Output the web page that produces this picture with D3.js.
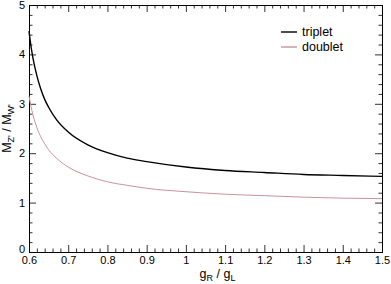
<!DOCTYPE html>
<html>
<head>
<meta charset="utf-8">
<script src="https://cdn.jsdelivr.net/npm/d3@7"></script>
<style>
  body { margin: 0; background: #fff; }
  svg text { font-family: "Liberation Sans", Arial, sans-serif; fill: #000; }
</style>
</head>
<body>
<svg width="391" height="284"></svg>
<script>
// g_R / g_L sample points
const ratio = [0.6, 0.605, 0.61, 0.62, 0.63, 0.64, 0.65, 0.67, 0.7, 0.75, 0.8, 0.85, 0.9, 1.0, 1.1, 1.2, 1.3, 1.4, 1.5];
const triplet = [4.47, 4.17, 3.93, 3.57, 3.30, 3.09, 2.93, 2.68, 2.43, 2.17, 2.01, 1.90, 1.83, 1.72, 1.65, 1.61, 1.57, 1.55, 1.53];
const doublet = [3.16, 2.95, 2.78, 2.52, 2.33, 2.19, 2.07, 1.90, 1.72, 1.54, 1.42, 1.35, 1.29, 1.22, 1.17, 1.14, 1.11, 1.09, 1.08];
const seriesNames = ["triplet", "doublet"];
const seriesColors = ["#000000", "#c8939b"];
const xTicks = [0.6, 0.7, 0.8, 0.9, 1, 1.1, 1.2, 1.3, 1.4, 1.5];
const yTicks = [0, 1, 2, 3, 4, 5];

const svg = d3.select("svg"),
    margin = {top: 5, right: 9, bottom: 32, left: 29},
    width = +svg.attr("width") - margin.left - margin.right,
    height = +svg.attr("height") - margin.top - margin.bottom;

const g = svg.append("g")
    .attr("transform", "translate(" + margin.left + "," + margin.top + ")");

const x = d3.scaleLinear().domain([0.6, 1.5]).range([0, width]);
const y = d3.scaleLinear().domain([0, 5]).range([height, 0]);

const xMinor = d3.range(0.6, 1.5001, 0.02).filter(v => Math.abs(v * 10 - Math.round(v * 10)) > 1e-6);
const yMinor = d3.range(0, 5.0001, 0.2).filter(v => Math.abs(v - Math.round(v)) > 1e-6);

const fmt = d => d3.format("")(+d.toFixed(1));

function axisGroup(axis, tx, ty) {
    const a = g.append("g")
        .attr("transform", "translate(" + tx + "," + ty + ")")
        .call(axis);
    a.select(".domain").remove();
    a.selectAll("line").attr("stroke", "#333");
    a.selectAll("text").style("font-size", "11px").attr("fill", "#000");
    return a;
}

// major + minor ticks on all four sides, pointing inward
axisGroup(d3.axisBottom(x).tickValues(xTicks).tickSize(-7).tickPadding(4).tickFormat(fmt), 0, height);
axisGroup(d3.axisBottom(x).tickValues(xMinor).tickSize(-3.5).tickFormat(""), 0, height);
axisGroup(d3.axisTop(x).tickValues(xTicks).tickSize(-7).tickFormat(""), 0, 0);
axisGroup(d3.axisTop(x).tickValues(xMinor).tickSize(-3.5).tickFormat(""), 0, 0);
const yAx = axisGroup(d3.axisLeft(y).tickValues(yTicks).tickSize(-7).tickPadding(4).tickFormat(d3.format("d")), 0, 0);
// lift the "0" a little so it clears the "0.6" below it
yAx.selectAll(".tick").filter(d => d === 0).select("text").attr("dy", "0.0em");
axisGroup(d3.axisLeft(y).tickValues(yMinor).tickSize(-3.5).tickFormat(""), 0, 0);
axisGroup(d3.axisRight(y).tickValues(yTicks).tickSize(-7).tickFormat(""), width, 0);
axisGroup(d3.axisRight(y).tickValues(yMinor).tickSize(-3.5).tickFormat(""), width, 0);

g.append("rect")
    .attr("x", 0.5).attr("y", 0.5)
    .attr("width", width).attr("height", height)
    .attr("fill", "none")
    .attr("stroke", "#000");

const line = d3.line()
    .x(d => x(d[0]))
    .y(d => y(d[1]))
    .curve(d3.curveMonotoneX);

[triplet, doublet].forEach((vals, i) => {
    g.append("path")
        .datum(ratio.map((r, j) => [r, vals[j]]))
        .attr("fill", "none")
        .attr("stroke", seriesColors[i])
        .attr("stroke-width", i === 0 ? 1.4 : 1)
        .attr("d", line);
});

// legend
const legend = svg.append("g").attr("transform", "translate(281,32)");
seriesNames.forEach((name, i) => {
    legend.append("line")
        .attr("x1", 0).attr("x2", 16)
        .attr("y1", i * 15).attr("y2", i * 15)
        .attr("stroke", seriesColors[i])
        .attr("stroke-width", 1.4);
    legend.append("text")
        .attr("x", 21).attr("y", i * 15)
        .attr("dy", "0.35em")
        .style("font-size", "12.5px")
        .text(name);
});

// axis titles
const xt = svg.append("text")
    .attr("x", margin.left + width / 2 + 12)
    .attr("y", 278)
    .attr("text-anchor", "middle")
    .style("font-size", "12.5px");
xt.append("tspan").text("g");
xt.append("tspan").attr("dy", 3).style("font-size", "9px").text("R");
xt.append("tspan").attr("dy", -3).text(" / g");
xt.append("tspan").attr("dy", 3).style("font-size", "9px").text("L");

const yt = svg.append("text")
    .attr("transform", "translate(11," + (margin.top + height / 2) + ") rotate(-90)")
    .attr("text-anchor", "middle")
    .style("font-size", "12.5px");
yt.append("tspan").text("M");
yt.append("tspan").attr("dy", 3).style("font-size", "9px").text("Z'");
yt.append("tspan").attr("dy", -3).text(" / M");
yt.append("tspan").attr("dy", 3).style("font-size", "9px").text("W'");
</script>
</body>
</html>
